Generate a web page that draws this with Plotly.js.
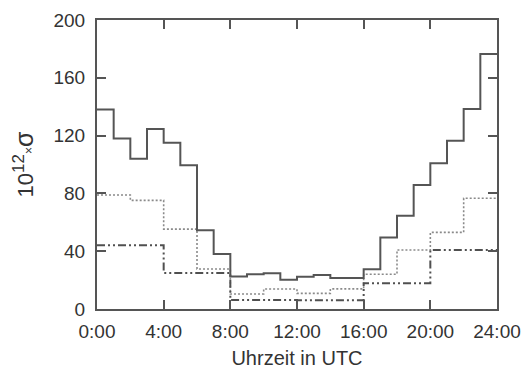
<!DOCTYPE html>
<html>
<head>
<meta charset="utf-8">
<script src="https://cdn.plot.ly/plotly-3.0.1.min.js"></script>
<style>html,body{margin:0;padding:0;background:#fff}#chart{width:524px;height:374px}</style>
</head>
<body>
<div id="chart"></div>
<script>
// Hourly bins (1 h), two-hour bins and four-hour bins
const solidValues = [138, 118, 104, 124.5, 115, 99.5, 54.5, 38, 22.5, 24, 24.7, 20.3, 22.4, 23.5, 21.5, 21.5, 27.5, 49.5, 64.5, 85.8, 100.8, 116.5, 138.4, 176.5];
const dottedValues = [78.9, 75.2, 55.3, 27.7, 10.4, 13.8, 10.8, 13.9, 24, 40.8, 53, 76.6];
const dashDotValues = [44.2, 25, 6.2, 6.1, 17.8, 40.8];
const tickHours = [0, 4, 8, 12, 16, 20, 24];
const tickLabels = ["0:00", "4:00", "8:00", "12:00", "16:00", "20:00", "24:00"];

function stepXY(vals, width) {
  const x = vals.map((v, i) => i * width);
  const y = vals.slice();
  x.push(vals.length * width);
  y.push(vals[vals.length - 1]);
  return {x, y};
}
const s1 = stepXY(solidValues, 1);
const s2 = stepXY(dottedValues, 2);
const s3 = stepXY(dashDotValues, 4);

const traces = [
  {x: s2.x, y: s2.y, mode: 'lines', line: {shape: 'hv', color: '#8a8a8a', width: 1.6, dash: '2px,2px'}, hoverinfo: 'none'},
  {x: s3.x, y: s3.y, mode: 'lines', line: {shape: 'hv', color: '#505050', width: 2, dash: '8px,3px,2px,3px,2px,3px'}, hoverinfo: 'none'},
  {x: s1.x, y: s1.y, mode: 'lines', line: {shape: 'hv', color: '#555555', width: 2}, hoverinfo: 'none'}
];

const font = {family: 'Liberation Sans, Arial, sans-serif', color: '#333333'};
const layout = {
  width: 524, height: 374,
  margin: {l: 97, r: 27, t: 20, b: 65},
  paper_bgcolor: '#ffffff', plot_bgcolor: '#ffffff',
  showlegend: false,
  font: font,
  xaxis: {
    range: [0, 24], tickmode: 'array', tickvals: tickHours, ticktext: tickLabels,
    ticks: 'inside', ticklen: 9, tickwidth: 2, tickcolor: '#555',
    showline: true, linecolor: '#555', linewidth: 2, mirror: 'ticks',
    showgrid: false, zeroline: false,
    tickfont: {family: font.family, size: 19, color: '#333'},
    ticklabelstandoff: 4,
    title: {text: 'Uhrzeit in UTC', font: {family: font.family, size: 20, color: '#333'}, standoff: 10}
  },
  yaxis: {
    range: [0, 200], tickmode: 'array', tickvals: [0, 40, 80, 120, 160, 200],
    ticks: 'inside', ticklen: 9, tickwidth: 2, tickcolor: '#555',
    showline: true, linecolor: '#555', linewidth: 2, mirror: 'ticks',
    showgrid: false, zeroline: false,
    tickfont: {family: font.family, size: 19, color: '#333'},
    ticklabelstandoff: 6,
    title: {text: '10<sup><span style="font-size:17px">12</span></sup><span style="font-size:12px">×</span><span style="font-size:25px">σ</span>', font: {family: font.family, size: 22, color: '#333'}, standoff: 14}
  }
};
Plotly.newPlot('chart', traces, layout, {staticPlot: true, displayModeBar: false});
</script>
</body>
</html>
